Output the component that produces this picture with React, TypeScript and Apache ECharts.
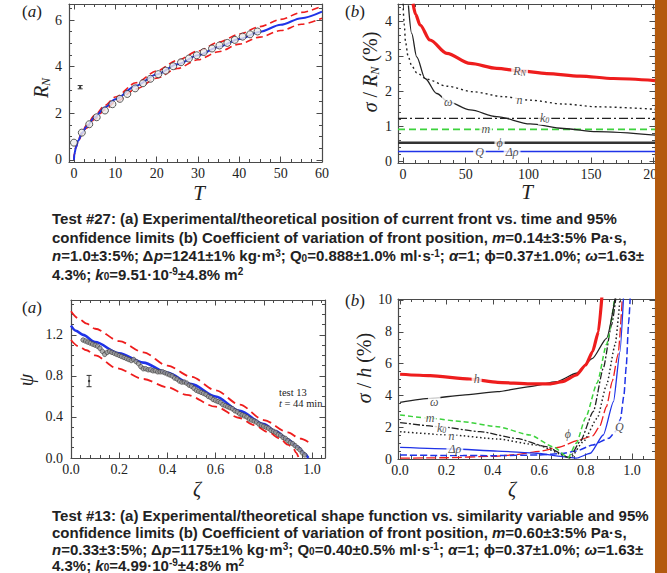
import React, { useEffect, useRef } from "react";
import * as echarts from "echarts";

const W = 667;
const H = 573;
const SERIF = "'Liberation Serif', 'DejaVu Serif', serif";
const SANS = "'Liberation Sans', Arial, sans-serif";
const RED = "#ee1d1d";
const BLUE = "#1f33e8";
const GREEN = "#3dd23d";
const INK = "#222222";
const FRAME = "#4a4a4a";
const ORANGE = "#b35a0e";

// ===================== Test #27 (a): R_N vs T =====================
const aT = [0, 0.1, 0.5, 1, 2, 3, 5, 7.5, 10, 15, 20, 25, 30, 35, 40, 45, 50, 55, 60];
const aFit = [0, 0.26, 0.55, 0.82, 1.16, 1.42, 1.83, 2.25, 2.6, 3.18, 3.67, 4.1, 4.49, 4.85, 5.19, 5.5, 5.8, 6.08, 6.36];
const aUpper = [0, 0.27, 0.58, 0.86, 1.21, 1.48, 1.91, 2.34, 2.7, 3.31, 3.82, 4.27, 4.67, 5.05, 5.4, 5.72, 6.03, 6.33, 6.6];
const aLower = [0, 0.25, 0.53, 0.78, 1.11, 1.36, 1.75, 2.15, 2.49, 3.04, 3.51, 3.92, 4.3, 4.64, 4.97, 5.27, 5.55, 5.82, 6.08];
const aObsT = [0, 1.9, 3.7, 5.5, 7.5, 9.3, 11.1, 12.9, 14.8, 16.7, 18.5, 20.4, 22.2, 24, 25.9, 27.8, 29.7, 31.4, 33.4, 35.2, 37.1, 38.9, 40.8, 42.6, 44.4];
const aObsR = [0.74, 1.17, 1.53, 1.83, 2.12, 2.39, 2.62, 2.83, 3.07, 3.29, 3.48, 3.68, 3.83, 4.02, 4.19, 4.35, 4.49, 4.63, 4.78, 4.91, 5.02, 5.15, 5.29, 5.39, 5.51];
const aErr = [[1.5, 3.12, 0.07]];
const aXTicks = [0, 10, 20, 30, 40, 50, 60];
const aYTicks = [0, 2, 4, 6];

// ===================== Test #27 (b): sigma/R_N vs T =====================
const bRnT = [8, 10, 13.6, 21.5, 34.9, 53.5, 74.8, 93.4, 114.7, 141, 167.8, 201];
const bRn = [4.5, 4.2, 3.89, 3.46, 3.08, 2.79, 2.65, 2.58, 2.5, 2.43, 2.36, 2.3];
const bNT = [0, 1, 2, 4, 7, 11, 19, 35, 56, 80, 101, 128, 155, 201];
const bN = [4.5, 3.9, 3.4, 3.0, 2.72, 2.52, 2.34, 2.14, 1.98, 1.84, 1.74, 1.63, 1.55, 1.48];
const bOmT = [4.3, 6.9, 10.9, 17.6, 26.9, 36.2, 53.5, 74.8, 101.4, 128, 154.6, 201];
const bOm = [4.45, 3.65, 2.98, 2.36, 1.93, 1.69, 1.46, 1.27, 1.06, 0.93, 0.84, 0.74];
const bFlatT = [-4, 201];
const bK0 = [1.22, 1.22];
const bM = [0.905, 0.905];
const bPhi = [0.52, 0.52];
const bQ = [0.27, 0.27];
const bLabT = [93, 93, 36, 113, 66, 77, 61, 87];
const bLabY = [2.58, 1.75, 1.69, 1.22, 0.905, 0.52, 0.27, 0.27];
const bLabText = ["{i|R}{s|N}", "n", "ω", "{i|k}{s|0}", "m", "ϕ", "Q", "Δρ"];
const bXTicks = [0, 50, 100, 150, 200];
const bYTicks = [0, 1, 2, 3, 4];

// ===================== Test #13 (a): psi vs zeta =====================
const cZ = [0, 0.02, 0.05, 0.1, 0.2, 0.3, 0.4, 0.5, 0.6, 0.7, 0.8, 0.85, 0.9, 0.94, 0.97, 0.985];
const cFit = [1.29, 1.24, 1.2, 1.13, 1.02, 0.93, 0.83, 0.72, 0.6, 0.46, 0.33, 0.26, 0.18, 0.11, 0.04, 0];
const cUpZ = [0, 0.03, 0.065, 0.1, 0.2, 0.3, 0.4, 0.5, 0.6, 0.7, 0.8, 0.9, 0.95, 1.0];
const cUp = [1.43, 1.36, 1.31, 1.26, 1.14, 1.03, 0.9, 0.79, 0.66, 0.52, 0.37, 0.25, 0.19, 0.134];
const cLoZ = [0, 0.03, 0.065, 0.1, 0.19, 0.3, 0.4, 0.48, 0.6, 0.7, 0.76, 0.82, 0.867, 0.9, 0.922, 0.935, 0.945];
const cLo = [1.15, 1.09, 1.05, 1.0, 0.875, 0.77, 0.69, 0.615, 0.5, 0.39, 0.32, 0.25, 0.19, 0.13, 0.095, 0.05, 0];
const cObsZ = [0.05, 0.06, 0.07, 0.08, 0.09, 0.1, 0.11, 0.12, 0.13, 0.14, 0.15, 0.16, 0.17, 0.18, 0.19, 0.2, 0.21, 0.22, 0.23, 0.24, 0.25, 0.26, 0.27, 0.28, 0.29, 0.3, 0.31, 0.32, 0.33, 0.34, 0.35, 0.36, 0.37, 0.38, 0.39, 0.4, 0.41, 0.42, 0.43, 0.44, 0.45, 0.46, 0.47, 0.48, 0.49, 0.5, 0.51, 0.52, 0.53, 0.54, 0.55, 0.56, 0.57, 0.58, 0.59, 0.6, 0.61, 0.62, 0.63, 0.64, 0.65, 0.66, 0.67, 0.68, 0.69, 0.7, 0.71, 0.72, 0.73, 0.74, 0.75, 0.76, 0.77, 0.78, 0.79, 0.8, 0.81, 0.82, 0.83, 0.84, 0.85, 0.86, 0.87, 0.88, 0.89, 0.9, 0.91, 0.92, 0.93, 0.94, 0.95, 0.96, 0.97];
const cObs = [1.15, 1.14, 1.13, 1.12, 1.11, 1.1, 1.09, 1.07, 1.04, 1.01, 1.03, 1.04, 1.03, 1.02, 1.01, 1.0, 0.99, 0.98, 0.97, 0.96, 0.95, 0.96, 0.94, 0.92, 0.89, 0.87, 0.87, 0.86, 0.86, 0.85, 0.85, 0.84, 0.84, 0.84, 0.83, 0.82, 0.81, 0.8, 0.78, 0.77, 0.75, 0.74, 0.74, 0.73, 0.71, 0.7, 0.68, 0.66, 0.65, 0.64, 0.63, 0.62, 0.6, 0.59, 0.57, 0.56, 0.55, 0.54, 0.52, 0.51, 0.5, 0.49, 0.48, 0.46, 0.45, 0.43, 0.42, 0.41, 0.4, 0.38, 0.37, 0.36, 0.35, 0.33, 0.32, 0.31, 0.3, 0.29, 0.27, 0.26, 0.25, 0.23, 0.22, 0.2, 0.19, 0.17, 0.15, 0.14, 0.12, 0.1, 0.08, 0.05, 0.03];
const cErr = [[0.075, 0.75, 0.055]];
const cXTicks = [0, 0.2, 0.4, 0.6, 0.8, 1.0];
const cYTicks = [0, 0.4, 0.8, 1.2];

// ===================== Test #13 (b): sigma/h vs zeta =====================
const dHZ = [0, 0.13, 0.3, 0.42, 0.56, 0.65, 0.7, 0.76, 0.8, 0.83, 0.855, 0.87];
const dH = [5.33, 5.24, 5.03, 4.82, 4.72, 4.72, 4.86, 5.28, 5.91, 6.75, 8.0, 10.2];
const dOmZ = [0, 0.13, 0.27, 0.42, 0.56, 0.675, 0.76, 0.83, 0.89, 0.927];
const dOm = [3.56, 3.81, 4.02, 4.23, 4.55, 4.86, 5.39, 6.33, 7.59, 10.1];
const dMZ = [0, 0.13, 0.27, 0.42, 0.56, 0.66, 0.725, 0.76, 0.8, 0.85, 0.89, 0.925];
const dM = [2.77, 2.56, 2.35, 2.03, 1.51, 0.77, 0.1, 1.0, 2.6, 4.8, 7.2, 10.1];
const dK0Z = [0, 0.17, 0.345, 0.5, 0.63, 0.73, 0.776, 0.833, 0.876, 0.912, 0.93];
const dK0 = [2.29, 2.03, 1.72, 1.3, 0.78, 0.08, 1.09, 2.98, 5.7, 8.43, 10.1];
const dNZ = [0, 0.22, 0.42, 0.59, 0.735, 0.79, 0.85, 0.89, 0.927, 0.948];
const dN = [1.72, 1.51, 1.26, 0.88, 0.08, 1.09, 2.56, 4.65, 7.17, 10.1];
const dRhoZ = [0, 0.23, 0.42, 0.59, 0.7, 0.76, 0.82, 0.876, 0.92, 0.948, 0.963];
const dRho = [0.73, 0.63, 0.5, 0.36, 0.15, 0.05, 0.36, 1.51, 3.61, 6.75, 10.1];
const dQZ = [0, 0.2, 0.4, 0.6, 0.7, 0.76, 0.83, 0.9, 0.93, 0.95, 0.965, 0.975, 0.985, 0.992];
const dQ = [0.25, 0.22, 0.21, 0.25, 0.35, 0.5, 0.88, 1.3, 1.75, 2.5, 4.0, 5.8, 8.5, 10.1];
const dPhiZ = [0, 0.2, 0.4, 0.5, 0.6, 0.686, 0.77, 0.83, 0.86, 0.89, 0.915, 0.94, 0.958];
const dPhi = [0.05, 0.08, 0.17, 0.27, 0.48, 0.74, 1.19, 1.45, 2.03, 3.3, 4.9, 6.6, 10.1];
const dLabZ = [0.33, 0.147, 0.129, 0.179, 0.222, 0.236, 0.723, 0.945];
const dLabY = [5.0, 3.6, 2.6, 1.97, 1.47, 0.63, 1.55, 2.03];
const dLabText = ["h", "ω", "m", "{i|k}{s|0}", "n", "Δρ", "ϕ", "Q"];
const dXTicks = [0, 0.2, 0.4, 0.6, 0.8, 1.0];
const dYTicks = [0, 2, 4, 6, 8, 10];

// ===================== Captions =====================
const caption27 = [
  "Test #27: (a) Experimental/theoretical position of current front vs. time and 95%",
  "confidence limits (b) Coefficient of variation of front position, {i|m}=0.14±3:5% Pa·s,",
  "{i|n}=1.0±3:5%; Δ{i|p}=1241±1% kg·m{sup|3}; Q{sub|0}=0.888±1.0% ml·s{sup|-1}; {i|α}=1; ϕ=0.37±1.0%; {i|ω}=1.63±",
  "4.3%; {i|k}{sub|0}=9.51·10{sup|-9}±4.8% m{sup|2}",
];
const caption13 = [
  "Test #13: (a) Experimental/theoretical shape function vs. similarity variable and 95%",
  "confidence limits (b) Coefficient of variation of front position, {i|m}=0.60±3:5% Pa·s,",
  "{i|n}=0.33±3:5%; Δ{i|p}=1175±1% kg·m{sup|3}; Q{sub|0}=0.40±0.5% ml·s{sup|-1}; {i|α}=1; ϕ=0.37±1.0%; {i|ω}=1.63±",
  "4.3%; {i|k}{sub|0}=4.99·10{sup|-9}±4:8% m{sup|2}",
];
const caption27Y = [218.5, 237, 255.5, 274];
const caption13Y = [515, 532, 549, 565];

const range = (a: number, b: number, s: number) => {
  const out: number[] = [];
  for (let k = 0; a + k * s <= b + 1e-9; k++) out.push(Math.round((a + k * s) * 1e6) / 1e6);
  return out;
};
const zip = (xs: number[], ys: number[]) => xs.map((x, i) => [x, ys[i]]);

type Spec = { min: number; max: number; major: number[]; minor: number[]; digits: number; margin: number };

function buildAxes(gi: number, xs: Spec, ys: Spec) {
  const mk = (s: Spec, pos: string, main: boolean, minor: boolean) => ({
    gridIndex: gi,
    type: "value",
    min: s.min,
    max: s.max,
    position: pos,
    axisLine: { show: !minor, onZero: false, lineStyle: { color: FRAME, width: 1.2 } },
    axisTick: {
      show: true,
      inside: true,
      length: minor ? 3 : 5.5,
      customValues: minor ? s.minor : s.major,
      lineStyle: { color: FRAME, width: 1 },
    },
    axisLabel: main
      ? {
          show: true,
          customValues: s.major,
          formatter: (v: number) => v.toFixed(s.digits),
          fontFamily: SERIF,
          fontSize: 14,
          color: INK,
          margin: s.margin,
        }
      : { show: false },
    splitLine: { show: false },
    minorTick: { show: false },
    minorSplitLine: { show: false },
  });
  const xp = ["bottom", "top"];
  const yp = ["left", "right"];
  return {
    x: [mk(xs, xp[0], true, false), mk(xs, xp[0], false, true), mk(xs, xp[1], false, false), mk(xs, xp[1], false, true)],
    y: [mk(ys, yp[0], true, false), mk(ys, yp[0], false, true), mk(ys, yp[1], false, false), mk(ys, yp[1], false, true)],
  };
}

function line(gi: number, xs: number[], ys: number[], color: string, width: number, type: any, smooth = 0.3) {
  return {
    type: "line",
    xAxisIndex: gi * 4,
    yAxisIndex: gi * 4,
    data: zip(xs, ys),
    symbol: "none",
    showSymbol: false,
    smooth,
    smoothMonotone: "x",
    lineStyle: { color, width, type, cap: "butt" },
    silent: true,
    z: 3,
  };
}

const labelRich = {
  i: { fontFamily: SERIF, fontStyle: "italic", fontSize: 12, color: INK },
  s: { fontFamily: SERIF, fontStyle: "italic", fontSize: 8, color: INK, verticalAlign: "bottom", lineHeight: 13 },
};

function labels(gi: number, xs: number[], ys: number[], texts: string[]) {
  return {
    type: "scatter",
    xAxisIndex: gi * 4,
    yAxisIndex: gi * 4,
    symbolSize: 1,
    itemStyle: { color: "rgba(0,0,0,0)" },
    silent: true,
    z: 20,
    data: xs.map((x, i) => ({ value: [x, ys[i]], label: { formatter: texts[i] } })),
    label: {
      show: true,
      position: "inside",
      fontFamily: SERIF,
      fontStyle: "italic",
      fontSize: 12,
      color: INK,
      backgroundColor: "#ffffff",
      padding: [0, 2, 0, 2],
      rich: labelRich,
    },
  };
}

const errRender = (_p: any, api: any) => {
  const x = api.value(0);
  const y = api.value(1);
  const e = api.value(2);
  const c = api.coord([x, y]);
  const t = api.coord([x, y + e]);
  const b = api.coord([x, y - e]);
  const cap = 2.5;
  const st = { stroke: "#333", lineWidth: 1 };
  return {
    type: "group",
    children: [
      { type: "line", shape: { x1: c[0], y1: t[1], x2: c[0], y2: b[1] }, style: st },
      { type: "line", shape: { x1: c[0] - cap, y1: t[1], x2: c[0] + cap, y2: t[1] }, style: st },
      { type: "line", shape: { x1: c[0] - cap, y1: b[1], x2: c[0] + cap, y2: b[1] }, style: st },
      { type: "circle", shape: { cx: c[0], cy: c[1], r: 1.2 }, style: { fill: "#333" } },
    ],
  };
};

function errSeries(gi: number, data: number[][]) {
  return { type: "custom", xAxisIndex: gi * 4, yAxisIndex: gi * 4, data, renderItem: errRender, silent: true, z: 5 };
}

const capRich = {
  i: { fontFamily: SANS, fontWeight: "bold", fontStyle: "italic", fontSize: 15, fill: INK },
  sup: { fontFamily: SANS, fontWeight: "bold", fontSize: 10, fill: INK, verticalAlign: "top", lineHeight: 11 },
  sub: { fontFamily: SANS, fontWeight: "bold", fontSize: 10, fill: INK, verticalAlign: "bottom", lineHeight: 11 },
};

function capText(text: string, x: number, y: number) {
  return {
    type: "text",
    x,
    y,
    z: 50,
    style: {
      text,
      rich: capRich,
      fontFamily: SANS,
      fontWeight: "bold",
      fontSize: 15,
      fill: INK,
      align: "left",
      verticalAlign: "middle",
      lineHeight: 15,
    },
  };
}

const serifRich = (size: number) => ({
  i: { fontFamily: SERIF, fontStyle: "italic", fontSize: size, fill: INK },
  s: { fontFamily: SERIF, fontStyle: "italic", fontSize: Math.round(size * 0.6), fill: INK, verticalAlign: "bottom", lineHeight: size + 2 },
});

function serifText(text: string, x: number, y: number, size: number, rotate = false, italic = false) {
  return {
    type: "text",
    x,
    y,
    rotation: rotate ? Math.PI / 2 : 0,
    z: 50,
    style: {
      text,
      rich: serifRich(size),
      fontFamily: SERIF,
      fontStyle: italic ? "italic" : "normal",
      fontSize: size,
      fill: INK,
      align: "center",
      verticalAlign: "middle",
      lineHeight: size + 2,
    },
  };
}

function buildOption() {
  const axA = buildAxes(
    0,
    { min: -1.2, max: 60, major: aXTicks, minor: range(0, 60, 2.5), digits: 0, margin: 4 },
    { min: -0.09, max: 6.69, major: aYTicks, minor: range(0, 6.5, 0.5), digits: 0, margin: 7 }
  );
  const axB = buildAxes(
    1,
    { min: -4, max: 201, major: bXTicks, minor: range(0, 200, 10), digits: 0, margin: 4 },
    { min: -0.057, max: 4.49, major: bYTicks, minor: range(0, 4.4, 0.2), digits: 0, margin: 6 }
  );
  const axC = buildAxes(
    2,
    { min: 0, max: 1.054, major: cXTicks, minor: range(0, 1.04, 0.04), digits: 1, margin: 4 },
    { min: 0, max: 1.54, major: cYTicks, minor: range(0, 1.5, 0.1), digits: 1, margin: 8 }
  );
  const axD = buildAxes(
    3,
    { min: -0.009, max: 1.099, major: dXTicks, minor: range(0, 1.1, 0.05), digits: 1, margin: 4 },
    { min: 0, max: 10.06, major: dYTicks, minor: range(0, 10, 0.5), digits: 0, margin: 6 }
  );

  const series: any[] = [
    // Panel A
    line(0, aT, aUpper, RED, 1.6, [7, 4]),
    line(0, aT, aLower, RED, 1.6, [7, 4]),
    line(0, aT, aFit, BLUE, 2),
    {
      type: "scatter",
      xAxisIndex: 0,
      yAxisIndex: 0,
      data: zip(aObsT, aObsR),
      symbol: "circle",
      symbolSize: 7,
      itemStyle: { color: "#ececec", borderColor: "#333", borderWidth: 1 },
      silent: true,
      z: 6,
    },
    errSeries(0, aErr),
    // Panel B
    line(1, bFlatT, bQ, BLUE, 1.6, "solid", 0),
    line(1, bFlatT, bPhi, "#333", 2.6, "solid", 0),
    line(1, bFlatT, bM, GREEN, 1.8, [7, 4], 0),
    line(1, bFlatT, bK0, "#222", 1.4, [9, 3, 2, 3], 0),
    line(1, bOmT, bOm, "#222", 1.3, "solid"),
    line(1, bNT, bN, "#222", 1.4, [2, 3]),
    line(1, bRnT, bRn, RED, 3.2, "solid"),
    labels(1, bLabT, bLabY, bLabText),
    // Panel C
    line(2, cUpZ, cUp, RED, 1.8, [9, 5]),
    line(2, cLoZ, cLo, RED, 1.8, [9, 5]),
    line(2, cZ, cFit, BLUE, 2.6),
    {
      type: "scatter",
      xAxisIndex: 8,
      yAxisIndex: 8,
      data: zip(cObsZ, cObs),
      symbol: "circle",
      symbolSize: 4.5,
      itemStyle: { color: "#9a9a9a", borderColor: "#3a3a3a", borderWidth: 0.8 },
      silent: true,
      z: 6,
    },
    errSeries(2, cErr),
    // Panel D
    line(3, dPhiZ, dPhi, RED, 1.3, [10, 3], 0.2),
    line(3, dQZ, dQ, BLUE, 1.5, [7, 3], 0.2),
    line(3, dRhoZ, dRho, BLUE, 1.3, "solid", 0.2),
    line(3, dNZ, dN, "#222", 1.5, [1.5, 2.5], 0.2),
    line(3, dK0Z, dK0, "#222", 1.3, [7, 2, 2, 2], 0.2),
    line(3, dMZ, dM, GREEN, 1.5, [5, 3], 0.2),
    line(3, dOmZ, dOm, "#222", 1.3, "solid", 0.2),
    line(3, dHZ, dH, RED, 3.2, "solid", 0.2),
    labels(3, dLabZ, dLabY, dLabText),
  ];

  const graphics: any[] = [
    // panel letters
    serifText("({i|a})", 32, 11, 17),
    serifText("({i|b})", 355, 11, 17),
    serifText("({i|a})", 32, 307, 17),
    serifText("({i|b})", 355, 300, 17),
    // axis titles
    serifText("{i|R}{s|N}", 41, 88, 20, true),
    serifText("T", 199, 193, 21, false, true),
    serifText("{i|σ} / {i|R}{s|N} (%)", 370, 72, 20, true),
    serifText("T", 527, 192, 21, false, true),
    serifText("ψ", 26, 380, 20, true, true),
    serifText("ζ", 197, 489, 20, false, true),
    serifText("{i|σ} / {i|h} (%)", 364, 368, 20, true),
    serifText("ζ", 512, 489, 20, false, true),
    // annotation in panel C
    {
      type: "text",
      x: 279,
      y: 392,
      z: 50,
      style: { text: "test 13", fontFamily: SERIF, fontSize: 10.5, fill: INK, align: "left", verticalAlign: "middle" },
    },
    {
      type: "text",
      x: 279,
      y: 403,
      z: 50,
      style: {
        text: "{i|t} = 44 min",
        rich: { i: { fontFamily: SERIF, fontStyle: "italic", fontSize: 10.5, fill: INK } },
        fontFamily: SERIF,
        fontSize: 10.5,
        fill: INK,
        align: "left",
        verticalAlign: "middle",
      },
    },
    // captions
    ...caption27.map((t, i) => capText(t, 52, caption27Y[i])),
    ...caption13.map((t, i) => capText(t, 52, caption13Y[i])),
    // orange side bar
    { type: "rect", shape: { x: 655, y: 0, width: 12, height: H }, style: { fill: ORANGE }, z: 100 },
  ];

  return {
    animation: false,
    backgroundColor: "#ffffff",
    grid: [
      { left: 69, top: 4, width: 253, height: 158, outerBoundsMode: "none" },
      { left: 398, top: 4, width: 257, height: 159, outerBoundsMode: "none" },
      { left: 71, top: 300, width: 254, height: 158, outerBoundsMode: "none" },
      { left: 398, top: 299, width: 257, height: 160, outerBoundsMode: "none" },
    ],
    xAxis: [...axA.x, ...axB.x, ...axC.x, ...axD.x],
    yAxis: [...axA.y, ...axB.y, ...axC.y, ...axD.y],
    series,
    graphic: { elements: graphics },
  };
}

export default function App() {
  const ref = useRef<HTMLDivElement>(null);
  useEffect(() => {
    if (!ref.current) return;
    const chart = echarts.init(ref.current, undefined, { renderer: "svg", width: W, height: H });
    chart.setOption(buildOption() as any);
    return () => chart.dispose();
  }, []);
  return (
    <div
      ref={ref}
      style={{ position: "fixed", left: 0, top: 0, width: W, height: H, background: "#fff" }}
    />
  );
}
